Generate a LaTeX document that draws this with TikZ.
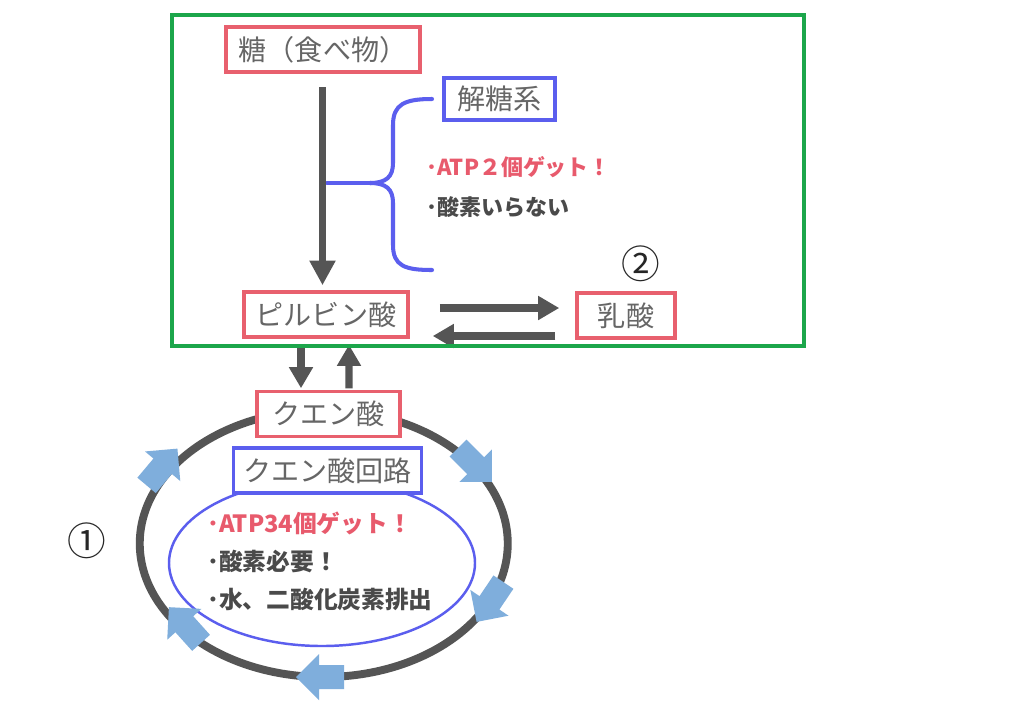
\documentclass[tikz,border=0pt]{standalone}
\usepackage{fontspec}
\newfontfamily\jp{Noto Sans CJK JP}
\usetikzlibrary{arrows.meta}
\definecolor{boxred}{HTML}{E8606E}
\definecolor{boxblue}{HTML}{5B5EEE}
\definecolor{txtgray}{HTML}{666666}
\definecolor{arrgray}{HTML}{555555}
\definecolor{lblue}{HTML}{7FAEDC}
\definecolor{frgreen}{HTML}{1CA64B}
\definecolor{redtxt}{HTML}{E85A6C}
\definecolor{darktxt}{HTML}{4A4A4A}
\begin{document}
\begin{tikzpicture}[x=0.02cm,y=-0.02cm,
  lbl/.style={font=\jp\fontsize{16}{18}\selectfont, text=txtgray, fill=white, line width=2pt, inner sep=0pt},
  rbox/.style={lbl, draw=boxred},
  bbox/.style={lbl, draw=boxblue},
  bul/.style={font=\jp\bfseries\fontsize{12.5}{15}\selectfont, anchor=west, inner sep=0pt},
  bulb/.style={bul, font=\jp\bfseries\fontsize{13.5}{16}\selectfont},
  num/.style={font=\jp\fontsize{22}{24}\selectfont, text=black!85, inner sep=0pt},
  garr/.style={draw=arrgray, line width=4pt, -{Triangle[length=14pt,width=14pt]}},
  sarr/.style={draw=arrgray, line width=4.2pt, -{Triangle[length=12pt,width=13pt]}},
  brace/.style={draw=boxblue, line width=2.3pt, line cap=round},
  cyc/.pic={\fill[lblue] (-24,-12) -- (1,-12) -- (1,-23) -- (24,0) -- (1,23) -- (1,12) -- (-24,12) -- cycle;}
]
\useasboundingbox[fill=white] (0,0) rectangle (1016,724);

% citric acid cycle ellipses
\draw[draw=arrgray, line width=4.5pt] (323.75,543.5) ellipse [x radius=184, y radius=133.5];
\draw[draw=boxblue, line width=1.4pt] (322,563) ellipse [x radius=153, y radius=83];

% boxes
\node[rbox, minimum width=194*0.02cm, minimum height=45*0.02cm] (tou) at (323,49.5) {糖（食べ物）};
\node[bbox, minimum width=111*0.02cm, minimum height=42*0.02cm] (kaitou) at (499.5,99) {解糖系};
\node[rbox, minimum width=164*0.02cm, minimum height=45*0.02cm] (pyr) at (326,314.5) {ピルビン酸};
\node[rbox, minimum width=98*0.02cm, minimum height=45*0.02cm] (nyu) at (626,315.5) {乳酸};
\node[rbox, minimum width=143*0.02cm, minimum height=45*0.02cm] (kuen) at (328.3,414.2) {クエン酸};
\node[bbox, minimum width=188*0.02cm, minimum height=45*0.02cm] (kairo) at (327.5,470.7) {クエン酸回路};

% texts
\node[bul, text=redtxt] (t1) at (426,167) {･ATP２個ゲット！};
\node[bul, text=darktxt] (t2) at (426,207) {･酸素いらない};
\node[bulb, text=redtxt] (t3) at (207,523) {･ATP34個ゲット！};
\node[bulb, text=darktxt] (t4) at (207,561) {･酸素必要！};
\node[bulb, text=darktxt] (t5) at (207,599) {･水、二酸化炭素排出};
\node[num] (n1) at (87,541) {①};
\node[num] (n2) at (641,264) {②};

% brace
\coordinate (btop) at (432,99);
\coordinate (bbot) at (432,270);
\coordinate (btip) at (327,183);
\draw[brace] (btop) .. controls (405,99) and (393,104) .. (393,125) -- (393,163) .. controls (393,177) and (386,183) .. (370,183);
\draw[brace] (370,183) .. controls (386,183) and (393,189) .. (393,203) -- (393,245) .. controls (393,266) and (405,270) .. (bbot);
\draw[brace] (370,183) -- (btip);

% gray arrows
\draw[garr] ([shift={(-0.5,13.5)}]tou.south) -- ([shift={(-3.5,-5)}]pyr.north);
\draw[sarr] ([shift={(30,-6.5)}]pyr.east) -- ([shift={(-16,-7.5)}]nyu.west);
\draw[sarr] ([shift={(-20,20.5)}]nyu.west) -- ([shift={(23,21.5)}]pyr.east);
\draw[sarr] ([shift={(-25,5)}]pyr.south) -- ([shift={(-27.3,-1.7)}]kuen.north);
\draw[sarr] ([shift={(20.7,-1.7)}]kuen.north) -- ([shift={(23,6)}]pyr.south);

% cycle arrows
\pic[rotate=50] at (162,467) {cyc};
\pic[rotate=-45] at (475,465) {cyc};
\pic[rotate=236] at (490,602) {cyc};
\pic[rotate=180] at (320,677) {cyc};
\pic[rotate=132] at (185,625) {cyc};

% green frame
\draw[draw=frgreen, line width=2pt] (172,15) rectangle (804,346);
\end{tikzpicture}
\end{document}
